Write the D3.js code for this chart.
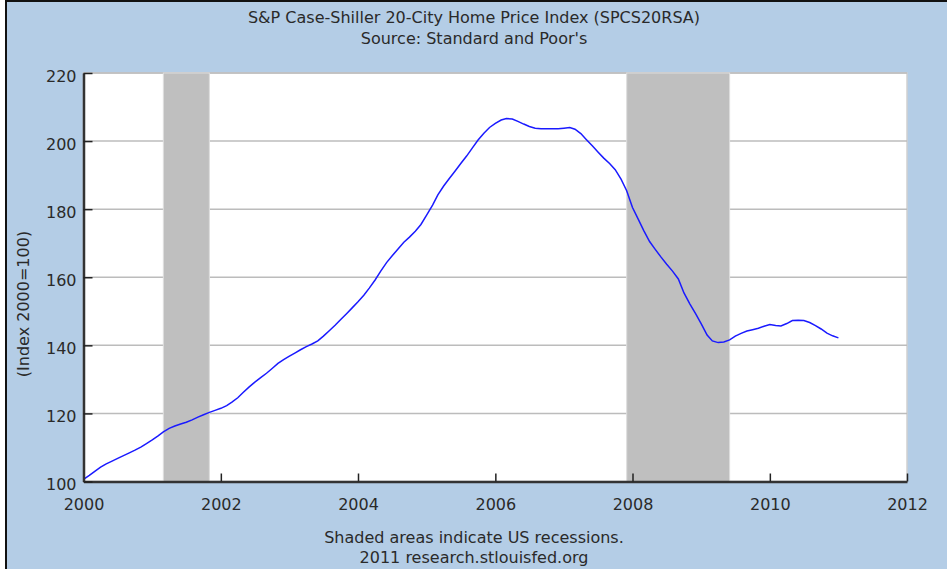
<!DOCTYPE html>
<html>
<head>
<meta charset="utf-8">
<script src="https://cdn.jsdelivr.net/npm/d3@7"></script>
<style>
  body { margin: 0; background: #fff; }
  text { font-family: "DejaVu Sans", Verdana, sans-serif; fill: #2a2a2a; }
</style>
</head>
<body>
<div id="vis"></div>
<script>
// chart text
const title = "S&P Case-Shiller 20-City Home Price Index (SPCS20RSA)";
const subtitle = "Source: Standard and Poor's";
const yLabel = "(Index 2000=100)";
const footer = ["Shaded areas indicate US recessions.", "2011 research.stlouisfed.org"];

// monthly values, Jan 2000 .. Jan 2011
const firstMonth = "2000-01-01";
const values = [
  100.6, 101.8, 103.0, 104.2, 105.2, 106.0, 106.8, 107.6, 108.4, 109.2, 110.1, 111.1,
  112.2, 113.4, 114.6, 115.6, 116.3, 116.9, 117.4, 118.1, 118.9, 119.6, 120.3, 120.9,
  121.5, 122.3, 123.3, 124.6, 126.2, 127.8, 129.2, 130.5, 131.8, 133.2, 134.7, 135.8,
  136.8, 137.8, 138.7, 139.6, 140.4, 141.3, 142.7, 144.3, 145.9, 147.6, 149.3, 151.0,
  152.8, 154.7, 156.8, 159.2, 161.8, 164.3, 166.3, 168.3, 170.3, 171.8, 173.5, 175.5,
  178.3, 181.2, 184.2, 186.8, 189.0, 191.2, 193.4, 195.6, 198.0, 200.3, 202.3, 204.0,
  205.2, 206.2, 206.6, 206.5, 205.8, 205.0, 204.3, 203.8, 203.6, 203.6, 203.6, 203.6,
  203.8, 204.0, 203.5, 202.2, 200.4, 198.6, 196.8, 195.0, 193.4, 191.6, 188.8, 185.4,
  180.5, 177.0, 173.7, 170.5, 168.2, 165.9, 163.8, 161.8, 159.5, 155.4, 152.2, 149.4,
  146.3, 143.0, 141.3, 140.8, 141.0, 141.6, 142.7, 143.5, 144.2, 144.6, 145.0, 145.6,
  146.1, 145.8, 145.7, 146.4, 147.3, 147.4, 147.3, 146.7, 145.8, 144.8, 143.6, 142.8,
  142.2
];

// recession bands
const recessionStarts = ["2001-03-01", "2007-12-01"];
const recessionEnds = ["2001-11-01", "2009-06-01"];

// axis ticks
const xTickYears = [2000, 2002, 2004, 2006, 2008, 2010, 2012];
const yTicks = [100, 120, 140, 160, 180, 200, 220];

const W = 947, H = 569;
const plot = { left: 83.5, right: 907, top: 73, bottom: 481.5 };
const fontSize = '16px';

const svg = d3.select('#vis')
  .append('svg')
  .attr('width', W)
  .attr('height', H);

// background + frame
svg.append('rect')
  .attr('x', 6).attr('y', 1)
  .attr('width', W).attr('height', H)
  .attr('fill', '#b4cde6')
  .attr('stroke', '#111')
  .attr('stroke-width', 2);

const parse = d3.timeParse("%Y-%m-%d");
const start = parse(firstMonth);
const data = values.map((v, i) => ({ date: d3.timeMonth.offset(start, i), value: v }));

const x = d3.scaleTime()
  .domain([new Date(2000, 0, 1), new Date(2012, 0, 1)])
  .range([plot.left, plot.right]);

const y = d3.scaleLinear()
  .domain([100, 220])
  .range([plot.bottom, plot.top]);

// plot area
svg.append('rect')
  .attr('x', plot.left).attr('y', plot.top)
  .attr('width', plot.right - plot.left)
  .attr('height', plot.bottom - plot.top)
  .attr('fill', '#fff')
  .attr('stroke', '#d0d0d0')
  .attr('stroke-width', 1.5);

// grid lines
svg.append('g')
  .selectAll('line')
  .data(yTicks.slice(1))
  .enter()
  .append('line')
  .attr('x1', plot.left)
  .attr('x2', plot.right)
  .attr('y1', d => y(d))
  .attr('y2', d => y(d))
  .attr('stroke', '#bcbcbc')
  .attr('stroke-width', 1.5);

// recessions
svg.append('g')
  .selectAll('rect')
  .data(recessionStarts.map((s, i) => [parse(s), parse(recessionEnds[i])]))
  .enter()
  .append('rect')
  .attr('x', d => x(d[0]))
  .attr('width', d => x(d[1]) - x(d[0]))
  .attr('y', plot.top)
  .attr('height', plot.bottom - plot.top)
  .attr('fill', '#bfbfbf')
  .attr('stroke', '#dedede')
  .attr('stroke-width', 1);

// series line
const line = d3.line()
  .x(d => x(d.date))
  .y(d => y(d.value));

svg.append('path')
  .datum(data)
  .attr('d', line)
  .attr('fill', 'none')
  .attr('stroke', '#1a1aff')
  .attr('stroke-width', 1.5);

// axes
const xAxis = d3.axisBottom(x)
  .tickValues(xTickYears.map(yr => new Date(yr, 0, 1)))
  .tickFormat(d3.timeFormat('%Y'))
  .tickSizeInner(-8)
  .tickSizeOuter(0)
  .tickPadding(17);

const gx = svg.append('g')
  .attr('transform', `translate(0,${plot.bottom})`)
  .call(xAxis);

const yAxis = d3.axisLeft(y)
  .tickValues(yTicks)
  .tickSizeInner(-9)
  .tickSizeOuter(0)
  .tickPadding(7);

const gy = svg.append('g')
  .attr('transform', `translate(${plot.left},0)`)
  .call(yAxis);

[gx, gy].forEach(g => {
  g.select('.domain').attr('stroke', '#333').attr('stroke-width', 2.5);
  g.selectAll('.tick line').attr('stroke', '#222').attr('stroke-width', 1.5);
  g.selectAll('.tick text')
    .style('font-family', '"DejaVu Sans", Verdana, sans-serif')
    .style('font-size', fontSize)
    .attr('fill', '#2a2a2a');
});
gy.selectAll('.tick text').attr('dy', '0.5em');

// titles
svg.append('text')
  .attr('x', 474).attr('y', 23)
  .attr('text-anchor', 'middle')
  .style('font-size', fontSize)
  .text(title);

svg.append('text')
  .attr('x', 474).attr('y', 44)
  .attr('text-anchor', 'middle')
  .style('font-size', fontSize)
  .text(subtitle);

svg.append('text')
  .attr('transform', 'rotate(-90)')
  .attr('x', -304)
  .attr('y', 29)
  .attr('text-anchor', 'middle')
  .style('font-size', fontSize)
  .text(yLabel);

svg.append('g')
  .selectAll('text')
  .data(footer)
  .enter()
  .append('text')
  .attr('x', 474)
  .attr('y', (d, i) => 543 + i * 20)
  .attr('text-anchor', 'middle')
  .style('font-size', fontSize)
  .text(d => d);
</script>
</body>
</html>
